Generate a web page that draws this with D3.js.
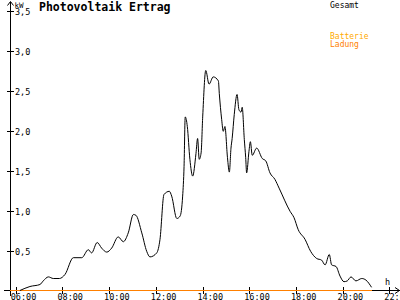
<!DOCTYPE html>
<html>
<head>
<meta charset="utf-8">
<script src="https://cdn.jsdelivr.net/npm/d3@7"></script>
<style>
  body { margin: 0; background: #fff; }
  svg text { font-family: "DejaVu Sans Mono", monospace; }
</style>
</head>
<body>
<svg id="chart" width="400" height="300"></svg>
<script>
// ***** DATA *****
// total output (Gesamt), hour of day and kW
const hours = [6.18, 6.61, 7.04, 7.18, 7.40, 7.61, 7.87, 8.11, 8.47, 8.83, 9.11, 9.25, 9.49, 9.68,
  9.90, 10.11, 10.39, 10.61, 10.82, 11.04, 11.15, 11.40, 11.61, 11.75, 12.04, 12.18, 12.35, 12.58,
  12.68, 12.90, 13.04, 13.15, 13.21, 13.26, 13.35, 13.46, 13.58, 13.72, 13.79, 13.86, 13.94, 14.01,
  14.14, 14.28, 14.46, 14.68, 14.72, 14.82, 14.89, 14.96, 15.07, 15.15, 15.22, 15.27, 15.36, 15.48,
  15.56, 15.65, 15.70, 15.79, 15.85, 15.89, 15.99, 16.05, 16.13, 16.32, 16.56, 16.71, 16.89, 17.10,
  17.28, 17.75, 17.92, 18.10, 18.39, 18.63, 18.89, 19.10, 19.25, 19.43, 19.53, 19.72, 19.89, 20.06,
  20.20, 20.36, 20.57, 20.82, 21.00, 21.24];
const gesamt = [0.00, 0.05, 0.075, 0.12, 0.17, 0.15, 0.15, 0.20, 0.41, 0.41, 0.51, 0.47, 0.60, 0.53,
  0.48, 0.53, 0.67, 0.61, 0.72, 0.95, 0.94, 0.72, 0.49, 0.42, 0.47, 0.64, 1.20, 1.24,
  1.18, 0.90, 0.93, 1.18, 1.55, 2.17, 2.05, 1.64, 1.43, 1.71, 1.90, 1.64, 1.72, 2.18,
  2.75, 2.58, 2.67, 2.62, 2.46, 2.14, 1.99, 2.05, 1.66, 1.48, 1.78, 1.90, 2.20, 2.45,
  2.26, 2.23, 2.29, 1.89, 1.66, 1.47, 1.74, 1.86, 1.69, 1.78, 1.65, 1.62, 1.47, 1.39,
  1.28, 0.99, 0.91, 0.76, 0.64, 0.49, 0.40, 0.38, 0.32, 0.45, 0.32, 0.30, 0.18, 0.11,
  0.12, 0.17, 0.12, 0.15, 0.13, 0.04];

// battery charging (Batterie Ladung), flat at zero
const ladungHours = [5.75, 21.25];
const ladung = [0, 0];

const xTicks = [6, 8, 10, 12, 14, 16, 18, 20, 22];
const yTicks = [0.5, 1.0, 1.5, 2.0, 2.5, 3.0, 3.5];

// ***** SETUP *****
const BLACK = "#000";
const ORANGE = "#FF8000";
const YELLOW = "#FFAA00";

const svg = d3.select("#chart");

const x = d3.scaleLinear().domain([6, 22]).range([15.7, 389.3]);
const y = d3.scaleLinear().domain([0, 3.5]).range([290.5, 10.5]);

const axisY = 290.5;
const axisX = 10.5;

// ***** AXES *****
const axes = svg.append("g").attr("shape-rendering", "crispEdges");

// y axis line + arrow
axes.append("line")
  .attr("x1", axisX).attr("x2", axisX)
  .attr("y1", 1.5).attr("y2", 296)
  .attr("stroke", BLACK);
svg.append("path")
  .attr("d", `M7.5,5.5 L${axisX},1.5 L13.5,5.5`)
  .attr("fill", "none").attr("stroke", BLACK);

// x axis line + arrow
axes.append("line")
  .attr("x1", 4).attr("x2", 399.5)
  .attr("y1", axisY).attr("y2", axisY)
  .attr("stroke", BLACK);
svg.append("path")
  .attr("d", `M395,287.5 L399.5,${axisY} L395,293.5`)
  .attr("fill", "none").attr("stroke", BLACK);

// y ticks
axes.selectAll(".ytick")
  .data(yTicks)
  .enter()
  .append("line")
  .attr("class", "ytick")
  .attr("x1", 7).attr("x2", 14)
  .attr("y1", d => Math.round(y(d)) + 0.5)
  .attr("y2", d => Math.round(y(d)) + 0.5)
  .attr("stroke", BLACK);

svg.selectAll(".ylabel")
  .data(yTicks)
  .enter()
  .append("text")
  .attr("class", "ylabel")
  .attr("x", 15)
  .attr("y", d => Math.round(y(d)) + 3.5)
  .attr("font-size", "8.5px")
  .text(d => d3.format(".1f")(d).replace(".", ","));

// x ticks
axes.selectAll(".xtick")
  .data(xTicks)
  .enter()
  .append("line")
  .attr("class", "xtick")
  .attr("x1", d => Math.round(x(d)) + 0.5)
  .attr("x2", d => Math.round(x(d)) + 0.5)
  .attr("y1", 287).attr("y2", 294)
  .attr("stroke", BLACK);

svg.selectAll(".xlabel")
  .data(xTicks)
  .enter()
  .append("text")
  .attr("class", "xlabel")
  .attr("x", d => x(d) - 5)
  .attr("y", 299.5)
  .attr("font-size", "8.5px")
  .text(d => d3.format("02")(d) + ":00");

// unit labels
svg.append("text")
  .attr("x", 14.5).attr("y", 7.5)
  .attr("font-size", "7.5px")
  .text("kW");
svg.append("text")
  .attr("x", 385).attr("y", 284.5)
  .attr("font-size", "8.5px")
  .text("h");

// ***** SERIES *****
const line = d3.line()
  .x(d => x(d[0]))
  .y(d => y(d[1]));

svg.append("path")
  .datum(ladungHours.map((h, i) => [h, ladung[i]]))
  .attr("d", line)
  .attr("fill", "none")
  .attr("stroke", ORANGE)
  .attr("stroke-width", 1.2)
  .attr("shape-rendering", "crispEdges");

svg.append("path")
  .datum(hours.map((h, i) => [h, gesamt[i]]))
  .attr("d", line.curve(d3.curveMonotoneX))
  .attr("fill", "none")
  .attr("stroke", BLACK)
  .attr("stroke-width", 1);

// ***** TITLE, LEGEND *****
svg.append("text")
  .attr("x", 39).attr("y", 10.5)
  .attr("font-size", "11.5px")
  .attr("font-weight", "bold")
  .text("Photovoltaik Ertrag");

svg.append("text")
  .attr("x", 330).attr("y", 7.5)
  .attr("font-size", "8px")
  .attr("fill", BLACK)
  .text("Gesamt");
svg.append("text")
  .attr("x", 330).attr("y", 38.5)
  .attr("font-size", "8px")
  .attr("fill", YELLOW)
  .text("Batterie");
svg.append("text")
  .attr("x", 330).attr("y", 46.5)
  .attr("font-size", "8px")
  .attr("fill", ORANGE)
  .text("Ladung");
</script>
</body>
</html>
